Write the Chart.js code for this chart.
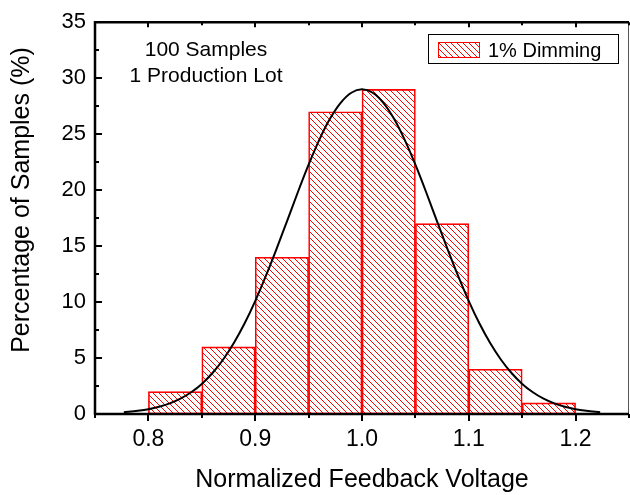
<!DOCTYPE html>
<html>
<head>
<meta charset="utf-8">
<script src="https://cdn.jsdelivr.net/npm/chart.js@4"></script>
<style>
  body { margin: 0; background: #fff; }
  #c { display: block; }
</style>
</head>
<body>
<canvas id="c" width="630" height="495"></canvas>
<script>
// histogram bins (centre of each 0.05 wide bin) and percent of samples
const binCenters = [0.825, 0.875, 0.925, 0.975, 1.025, 1.075, 1.125, 1.175];
const binPercent = [2, 6, 14, 27, 29, 17, 4, 1];

// fitted normal curve
const fitX = [0.777, 0.79, 0.80, 0.81, 0.82, 0.83, 0.84, 0.85, 0.86, 0.87, 0.88, 0.89,
              0.90, 0.91, 0.92, 0.93, 0.94, 0.95, 0.96, 0.97, 0.98, 0.99, 1.00,
              1.01, 1.02, 1.03, 1.04, 1.05, 1.06, 1.07, 1.08, 1.09, 1.10, 1.11,
              1.12, 1.13, 1.14, 1.15, 1.16, 1.17, 1.18, 1.19, 1.20, 1.21, 1.223];
const fitY = [0.15, 0.28, 0.42, 0.64, 0.95, 1.37, 1.94, 2.69, 3.66, 4.87, 6.34, 8.08,
              10.09, 12.33, 14.75, 17.28, 19.83, 22.27, 24.49, 26.37, 27.80, 28.70, 29.00,
              28.70, 27.80, 26.37, 24.49, 22.27, 19.83, 17.28, 14.75, 12.33, 10.09, 8.08,
              6.34, 4.87, 3.66, 2.69, 1.94, 1.37, 0.95, 0.64, 0.42, 0.28, 0.15];

const xTicks = [0.8, 0.9, 1.0, 1.1, 1.2];
const xTickLabels = ['0.8', '0.9', '1.0', '1.1', '1.2'];
const yTicks = [0, 5, 10, 15, 20, 25, 30, 35];

const seriesName = '1% Dimming';
const noteLines = ['100 Samples', '1 Production Lot'];
const xTitle = 'Normalized Feedback Voltage';
const yTitle = 'Percentage of Samples (%)';

const FONT = '"Liberation Sans", Arial, sans-serif';

function makeHatch() {
  const t = document.createElement('canvas');
  t.width = 6; t.height = 6;
  const g = t.getContext('2d');
  g.strokeStyle = '#ff0000';
  g.lineWidth = 1;
  g.beginPath();
  g.moveTo(0, 0); g.lineTo(6, 6);
  g.moveTo(-1, 5); g.lineTo(1, 7);
  g.moveTo(5, -1); g.lineTo(7, 1);
  g.stroke();
  return g.createPattern(t, 'repeat');
}
const hatch = makeHatch();

// frame, ticks, titles, note and legend
const decor = {
  id: 'decor',
  afterDraw(chart) {
    const ctx = chart.ctx;
    const a = chart.chartArea;
    const xs = chart.scales.x, ys = chart.scales.y;
    ctx.save();
    ctx.lineCap = 'butt';

    // thin right side
    ctx.lineWidth = 1;
    ctx.strokeStyle = '#555';
    ctx.beginPath();
    ctx.moveTo(a.right - 0.5, a.top); ctx.lineTo(a.right - 0.5, a.bottom);
    ctx.stroke();

    ctx.strokeStyle = '#000';
    ctx.lineWidth = 2.5;
    ctx.beginPath();
    ctx.moveTo(a.left, a.top - 1); ctx.lineTo(a.left, a.bottom + 1);
    ctx.moveTo(a.left - 1, a.bottom); ctx.lineTo(a.right, a.bottom);
    ctx.moveTo(a.left - 1, a.top); ctx.lineTo(a.right, a.top);
    ctx.stroke();

    // x ticks: major every 0.1, minor between
    ctx.lineWidth = 2;
    ctx.beginPath();
    for (let i = 0; i < xTicks.length; i++) {
      const px = Math.round(xs.getPixelForValue(xTicks[i]));
      ctx.moveTo(px, a.bottom); ctx.lineTo(px, a.bottom + 7);
      ctx.moveTo(px, a.top); ctx.lineTo(px, a.top + 5);
    }
    for (let i = 0; i < xTicks.length + 1; i++) {
      const v = xTicks[0] - 0.05 + i * 0.1;
      const px = Math.round(xs.getPixelForValue(v));
      ctx.moveTo(px, a.bottom); ctx.lineTo(px, a.bottom + 4);
      ctx.moveTo(px, a.top); ctx.lineTo(px, a.top + 3);
    }
    // y ticks pointing inward
    for (let i = 0; i < yTicks.length; i++) {
      const py = Math.round(ys.getPixelForValue(yTicks[i]));
      ctx.moveTo(a.left, py); ctx.lineTo(a.left + 7, py);
      if (i < yTicks.length - 1) {
        const pm = Math.round(ys.getPixelForValue(yTicks[i] + 2.5));
        ctx.moveTo(a.left, pm); ctx.lineTo(a.left + 4, pm);
      }
    }
    ctx.stroke();

    // axis titles
    ctx.fillStyle = '#000';
    ctx.font = '25px ' + FONT;
    ctx.textAlign = 'center';
    ctx.textBaseline = 'alphabetic';
    ctx.fillText(xTitle, 362, 487);
    ctx.save();
    ctx.translate(29, 200);
    ctx.rotate(-Math.PI / 2);
    ctx.fillText(yTitle, 0, 0);
    ctx.restore();

    // note
    ctx.font = '21px ' + FONT;
    ctx.fillText(noteLines[0], 206, 56);
    ctx.fillText(noteLines[1], 206, 82);

    // legend
    ctx.lineWidth = 1;
    ctx.strokeStyle = '#000';
    ctx.fillStyle = '#fff';
    ctx.fillRect(428.5, 34.5, 190, 29);
    ctx.strokeRect(428.5, 34.5, 190, 29);
    ctx.fillStyle = hatch;
    ctx.fillRect(438, 42, 42, 16);
    ctx.strokeStyle = '#ff0000';
    ctx.strokeRect(438.5, 42.5, 41, 15);
    ctx.fillStyle = '#000';
    ctx.font = '20px ' + FONT;
    ctx.textAlign = 'left';
    ctx.fillText(seriesName, 488, 57);
    ctx.restore();
  }
};

new Chart(document.getElementById('c').getContext('2d'), {
  data: {
    datasets: [{
      type: 'line',
      label: 'fit',
      data: fitX.map((x, i) => ({ x: x, y: fitY[i] })),
      borderColor: '#000',
      borderWidth: 2,
      pointRadius: 0,
      fill: false,
      cubicInterpolationMode: 'monotone',
      order: 0
    }, {
      type: 'bar',
      label: seriesName,
      data: binCenters.map((x, i) => ({ x: x, y: binPercent[i] })),
      backgroundColor: hatch,
      borderColor: '#ff0000',
      borderWidth: 1,
      borderSkipped: false,
      barPercentage: 1,
      categoryPercentage: 1,
      order: 1
    }]
  },
  options: {
    responsive: false,
    animation: false,
    devicePixelRatio: 1,
    layout: { padding: { top: 20, right: 1, left: 0, bottom: 0 } },
    plugins: {
      legend: { display: false },
      title: { display: false },
      tooltip: { enabled: false }
    },
    scales: {
      x: {
        type: 'linear',
        offset: false,
        min: 0.75,
        max: 1.25,
        grid: { display: false, drawTicks: false },
        border: { display: false },
        afterBuildTicks: s => { s.ticks = xTicks.map(v => ({ value: v })); },
        afterFit: s => { s.height = 81; },
        ticks: {
          padding: 12,
          color: '#000',
          font: { family: FONT, size: 23 },
          maxRotation: 0,
          autoSkip: false,
          callback: (v, i) => xTickLabels[i]
        }
      },
      y: {
        min: 0,
        max: 35,
        grid: { display: false, drawTicks: false },
        border: { display: false },
        afterBuildTicks: s => { s.ticks = yTicks.map(v => ({ value: v })); },
        afterFit: s => { s.width = 95; },
        ticks: {
          padding: 9,
          color: '#000',
          font: { family: FONT, size: 22 }
        }
      }
    }
  },
  plugins: [decor]
});
</script>
</body>
</html>
